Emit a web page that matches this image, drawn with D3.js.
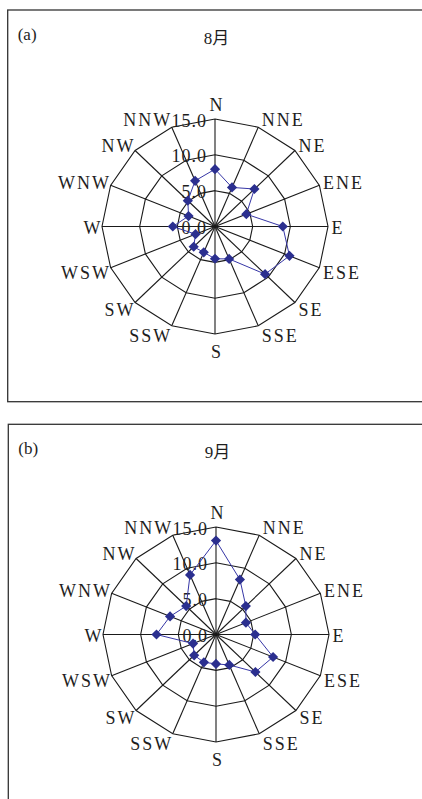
<!DOCTYPE html>
<html>
<head>
<meta charset="utf-8">
<title>风向频率 8月 / 9月</title>
<script src="https://cdn.jsdelivr.net/npm/d3@7"></script>
<style>
  body { margin: 0; background: #fff; }
  text { font-family: 'Liberation Serif', 'Times New Roman', 'Noto Sans CJK SC', serif; fill: #1e1e1e; }
</style>
</head>
<body>
<svg id="chart"></svg>
<script>
const directions = ['N', 'NNE', 'NE', 'ENE', 'E', 'ESE', 'SE', 'SSE',
                    'S', 'SSW', 'SW', 'WSW', 'W', 'WNW', 'NW', 'NNW'];
const augValues = [8.0, 5.9, 7.4, 4.5, 9.0, 10.7, 9.4, 4.9, 4.5, 3.9, 4.0, 2.8, 5.6, 3.8, 5.1, 6.9];
const sepValues = [13.1, 8.3, 5.6, 4.3, 5.2, 8.2, 7.4, 4.6, 4.1, 4.2, 4.1, 3.3, 7.9, 6.6, 5.6, 9.0];
const ringValues = [5, 10, 15];
const tickValues = [0, 5, 10, 15];
const panelTags = ['(a)', '(b)'];
const monthTitles = ['8月', '9月'];

const width = 422, height = 799;
const svg = d3.select('#chart').attr('width', width).attr('height', height);

const panels = [
  { tag: panelTags[0], title: monthTitles[0], values: augValues, left: 7.7, top: 10, bottom: 401.7, cx: 215, cy: 226.5 },
  { tag: panelTags[1], title: monthTitles[1], values: sepValues, left: 8.3, top: 424.3, bottom: 830, cx: 216, cy: 634.5 }
];

// angle for each direction, N at top, clockwise
const angle = d3.scaleBand().domain(directions).range([0, 2 * Math.PI]).paddingInner(0).paddingOuter(0);
// the original is a little wider than tall
const rx = d3.scaleLinear().domain([0, 15]).range([0, 113]);
const ry = d3.scaleLinear().domain([0, 15]).range([0, 107.5]);

const drawPanel = p => {
  const pt = (dir, v) => {
    const a = angle(dir);
    return [p.cx + rx(v) * Math.sin(a), p.cy - ry(v) * Math.cos(a)];
  };

  const g = svg.append('g');

  // frame
  g.append('rect')
    .attr('x', p.left)
    .attr('y', p.top)
    .attr('width', width + 20 - p.left)
    .attr('height', p.bottom - p.top)
    .attr('fill', 'none')
    .attr('stroke', '#333')
    .attr('stroke-width', 1.3);

  g.append('text')
    .attr('x', p.left + 10)
    .attr('y', p.top + 29.5)
    .attr('font-size', 17)
    .text(p.tag);

  g.append('text')
    .attr('x', p.cx + 1.5)
    .attr('y', p.top + 34)
    .attr('text-anchor', 'middle')
    .attr('font-size', 17)
    .text(p.title);

  // rings
  const ringLine = d3.line().curve(d3.curveLinearClosed);
  g.selectAll('path.ring').data(ringValues)
    .enter().append('path')
      .attr('class', 'ring')
      .attr('d', v => ringLine(directions.map(d => pt(d, v))))
      .attr('fill', 'none')
      .attr('stroke', '#1a1a1a')
      .attr('stroke-width', 1.1);

  // spokes
  g.selectAll('line.spoke').data(directions)
    .enter().append('line')
      .attr('class', 'spoke')
      .attr('x1', p.cx)
      .attr('y1', p.cy)
      .attr('x2', d => pt(d, 15)[0])
      .attr('y2', d => pt(d, 15)[1])
      .attr('stroke', '#1a1a1a')
      .attr('stroke-width', 1.1);

  // direction labels
  g.selectAll('text.dir').data(directions)
    .enter().append('text')
      .attr('class', 'dir')
      .attr('font-size', 18)
      .attr('letter-spacing', 2)
      .attr('text-anchor', d => {
        const s = Math.sin(angle(d));
        return Math.abs(s) < 0.1 ? 'middle' : (s > 0 ? 'start' : 'end');
      })
      .attr('x', d => {
        const s = Math.sin(angle(d));
        const [x] = pt(d, 15);
        if (Math.abs(s) < 0.1) return x + 2;
        return s > 0 ? x + 3.5 : x + 0.5;
      })
      .attr('y', d => {
        const c = Math.cos(angle(d));
        const [, y] = pt(d, 15);
        const k = Math.abs(c) > 0.95 ? 16 : 9;
        return y + 1.5 - c * k + 6;
      })
      .text(d => d);

  // radial tick labels
  g.selectAll('text.tick').data(tickValues)
    .enter().append('text')
      .attr('class', 'tick')
      .attr('font-size', 18)
      .attr('letter-spacing', 1)
      .attr('text-anchor', 'end')
      .attr('x', p.cx - 8)
      .attr('y', v => p.cy - ry(v) + 1.5 + 6)
      .text(d3.format('.1f'));

  // series
  const pts = directions.map((d, i) => pt(d, p.values[i]));
  g.append('path')
    .attr('d', ringLine(pts))
    .attr('fill', 'none')
    .attr('stroke', '#3636a6')
    .attr('stroke-width', 1);

  g.selectAll('path.marker').data(pts)
    .enter().append('path')
      .attr('class', 'marker')
      .attr('d', d3.symbol().type(d3.symbolSquare).size(52))
      .attr('transform', d => `translate(${d[0]},${d[1]}) rotate(45)`)
      .attr('fill', '#2b2f8f');
};

panels.forEach(drawPanel);
</script>
</body>
</html>
